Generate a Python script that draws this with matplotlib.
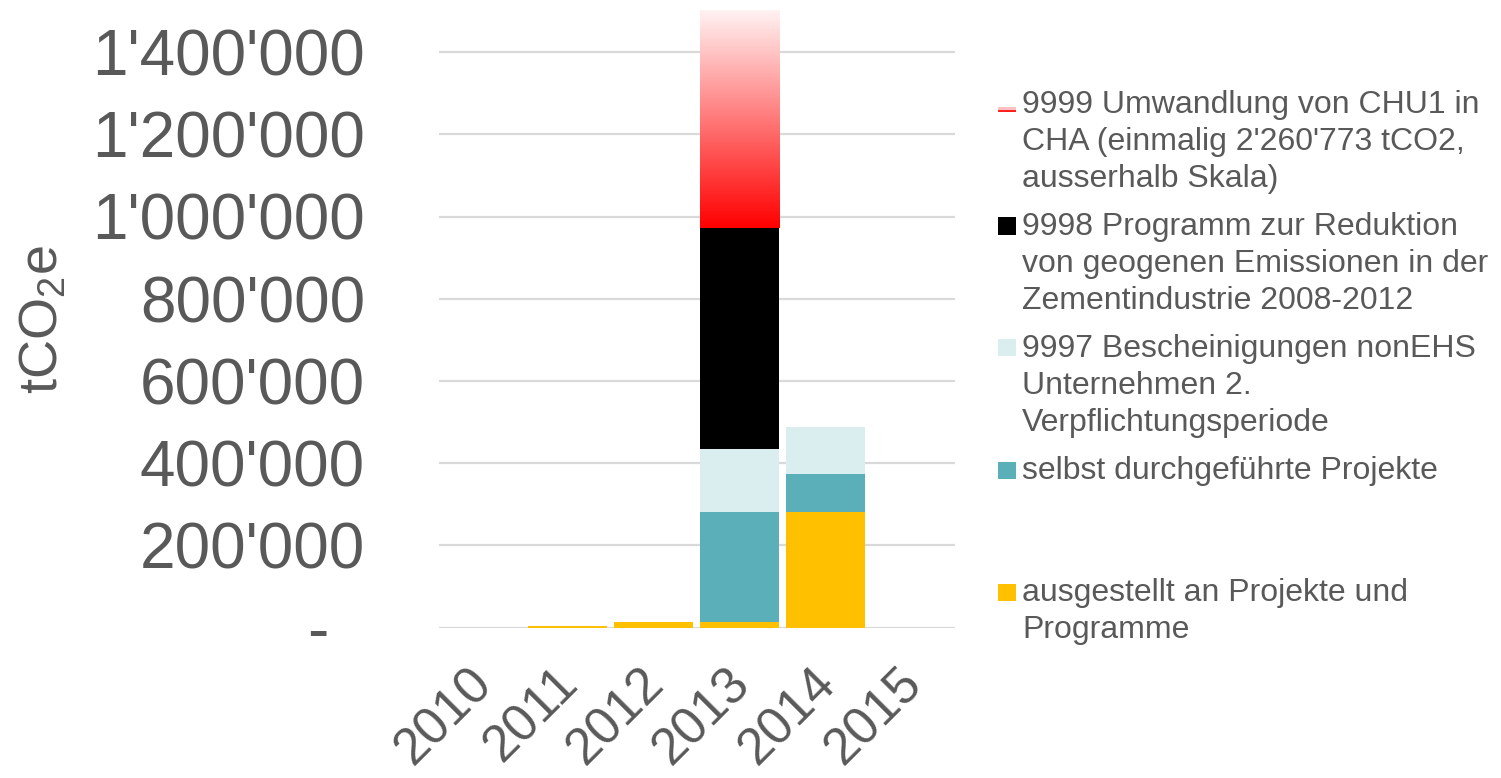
import numpy as np
import matplotlib
matplotlib.use("Agg")
import matplotlib.pyplot as plt
from matplotlib.patches import Rectangle
from matplotlib.colors import LinearSegmentedColormap
from matplotlib.ticker import FuncFormatter
from matplotlib.transforms import ScaledTranslation

plt.rcParams['font.family'] = ['Liberation Sans', 'DejaVu Sans']
plt.rcParams['mathtext.fontset'] = 'custom'
plt.rcParams['mathtext.rm'] = 'Liberation Sans'
plt.rcParams['mathtext.it'] = 'Liberation Sans:italic'
plt.rcParams['mathtext.default'] = 'regular'

# ---------------- data ----------------
years = ['2010', '2011', '2012', '2013', '2014', '2015']
ausgestellt = [0, 3000, 13000, 14000, 281000, 0]          # ausgestellt an Projekte und Programme
selbst = [0, 0, 0, 267000, 92500, 0]                      # selbst durchgeführte Projekte
nonehs_9997 = [0, 0, 0, 152500, 114500, 0]                # 9997 Bescheinigungen nonEHS
zement_9998 = [0, 0, 0, 538500, 0, 0]                     # 9998 Programm Zementindustrie
chu1_9999 = [0, 0, 0, 2260773, 0, 0]                      # 9999 Umwandlung CHU1 in CHA

legend_labels = [
    "9999 Umwandlung von CHU1 in\nCHA (einmalig 2'260'773 tCO2,\nausserhalb Skala)",
    "9998 Programm zur Reduktion\nvon geogenen Emissionen in der\nZementindustrie 2008-2012",
    "9997 Bescheinigungen nonEHS\nUnternehmen 2.\nVerpflichtungsperiode",
    "selbst durchgeführte Projekte",
    "ausgestellt an Projekte und\nProgramme",
]

C_YELLOW = '#FFC000'
C_TEAL = '#5BAFB9'
C_LIGHT = '#DAEEF0'
C_BLACK = '#000000'
C_TEXT = '#595959'
C_GRID = '#D9D9D9'

W, H = 1501, 778
fig = plt.figure(figsize=(W / 100, H / 100), dpi=100)
ax = fig.add_axes([438.5 / W, 1 - 627.5 / H, 516 / W, 616.5 / H])

x = np.arange(len(years))
bw = 0.92
a = np.array(ausgestellt, float)
s = np.array(selbst, float)
b = np.array(nonehs_9997, float)
c = np.array(zement_9998, float)
r = np.array(chu1_9999, float)

ax.bar(x, a, width=bw, color=C_YELLOW, zorder=3)
ax.bar(x, s, width=bw, bottom=a, color=C_TEAL, zorder=3)
ax.bar(x, b, width=bw, bottom=a + s, color=C_LIGHT, zorder=3)
ax.bar(x, c, width=bw, bottom=a + s + b, color=C_BLACK, zorder=3)
red_bars = ax.bar(x, r, width=bw, bottom=a + s + b + c, color='none',
                  edgecolor='none', zorder=3)

YTOP = 1.5e6
cmap = LinearSegmentedColormap.from_list('redgrad', [(1, 0, 0), (1, 0.95, 0.95)])
grad = np.linspace(0, 1, 256).reshape(-1, 1)
for rect, v in zip(red_bars, r):
    if v <= 0:
        continue
    x0 = rect.get_x()
    x1 = x0 + rect.get_width()
    y0 = rect.get_y()
    y1 = min(y0 + rect.get_height(), YTOP)
    im = ax.imshow(grad, extent=[x0, x1, y0, y1], origin='lower', cmap=cmap,
                   aspect='auto', zorder=3, interpolation='bilinear')
    im.set_clip_path(rect)

ax.set_xlim(-0.5, len(years) - 0.5)
ax.set_ylim(0, YTOP)
ax.set_yticks(np.arange(0, 1.4e6 + 1, 2e5))
ax.yaxis.set_major_formatter(FuncFormatter(
    lambda v, p: '-  ' if v == 0 else f"{v:,.0f}".replace(',', "'")))
ax.set_xticks(x)
ax.set_xticklabels(years, rotation=45, ha='right', va='center',
                   rotation_mode='anchor')

ax.yaxis.grid(True, color=C_GRID, lw=1.6)
ax.set_axisbelow(True)
for sp in ax.spines.values():
    sp.set_visible(False)
ax.tick_params(axis='y', length=0, pad=53, labelsize=46, labelcolor=C_TEXT)
ax.tick_params(axis='x', length=0, pad=35, labelsize=37, labelcolor=C_TEXT)
shift = ScaledTranslation(3 / 100, 0, fig.dpi_scale_trans)
for lab in ax.get_xticklabels():
    lab.set_transform(lab.get_transform() + shift)

ax.set_ylabel('tCO$_2$e', fontsize=39, color=C_TEXT)
ax.yaxis.set_label_coords(-0.716, 0.5)

# ---------------- legend (drawn like the Excel legend) ----------------
leg_colors = ['grad', C_BLACK, C_LIGHT, C_TEAL, C_YELLOW]
for i, (lab, col) in enumerate(zip(legend_labels, leg_colors)):
    base = 114 + 122 * i          # baseline of the first line (px from top)
    fig.text(1022 / W, 1 - (base - 23.5) / H, lab, ha='left', va='top',
             fontsize=23, color=C_TEXT, linespacing=1.3)
    if col == 'grad':
        fig.add_artist(Rectangle((998 / W, 1 - (base - 2.5) / H), 18 / W, 2.5 / H,
                                 transform=fig.transFigure, color='#FF2020', lw=0))
        fig.add_artist(Rectangle((998 / W, 1 - (base - 4.5) / H), 18 / W, 2.0 / H,
                                 transform=fig.transFigure, color='#FFC0C0', lw=0))
    else:
        fig.add_artist(Rectangle((998 / W, 1 - (base - 1.5) / H), 18 / W, 17 / H,
                                 transform=fig.transFigure, color=col, lw=0))

fig.savefig('out.png', dpi=100)
